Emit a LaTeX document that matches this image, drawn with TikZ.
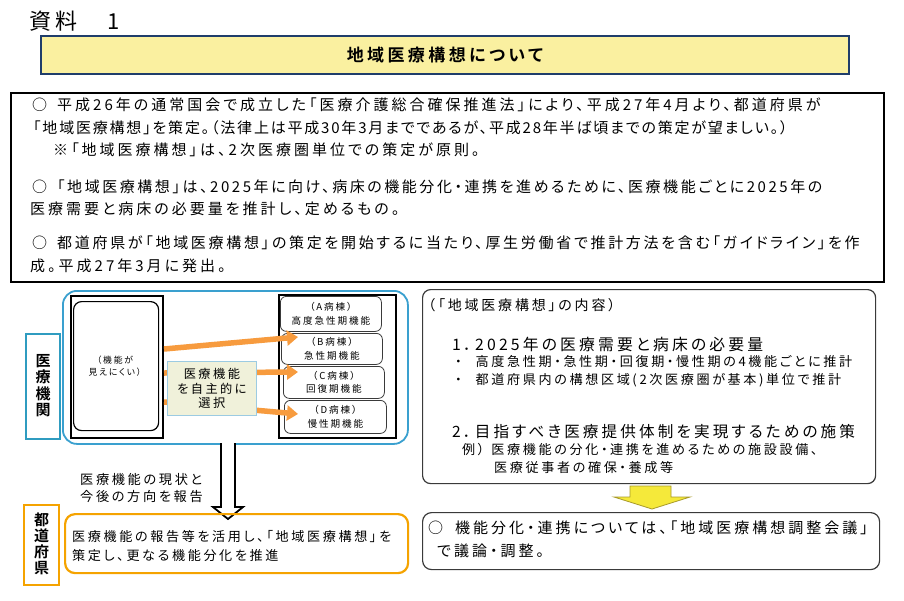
\documentclass[tikz,border=0pt]{standalone}
\usepackage{fontspec}
\setmainfont{Noto Sans CJK JP}[LetterSpace=20, RawFeature=+palt, BoldFont={Noto Sans CJK JP Bold}]
\usetikzlibrary{arrows.meta}
\definecolor{titlefill}{HTML}{FAF0A0}
\definecolor{titleedge}{HTML}{1F3D6B}
\definecolor{bluebox}{HTML}{3AA0CF}
\definecolor{tealbox}{HTML}{2F9CC0}
\definecolor{orangeA}{HTML}{F79B3E}
\definecolor{orangebox}{HTML}{F5A300}
\definecolor{centerfill}{HTML}{F0F1DA}
\definecolor{centeredge}{HTML}{9CCBE2}
\definecolor{yellowarrow}{HTML}{F5E93A}
\definecolor{yellowedge}{HTML}{A89A2A}
\definecolor{grayedge}{HTML}{3A3A3A}
\newcommand\fsz[2]{\fontsize{#1}{#2}\selectfont}
\tikzset{
  box/.style={draw, inner sep=0pt, anchor=north west},
  txt/.style={anchor=west, inner sep=0pt},
  ctxt/.style={inner sep=0pt, align=center},
  oarrow/.style={orangeA, line width=5.5pt, -{Triangle[width=15pt,length=11pt]}},
}
\begin{document}
\begin{tikzpicture}[x=1pt,y=-1pt]
\useasboundingbox (0,0) rectangle (904,600);
\fill[white] (0,0) rectangle (904,600);

% heading
\node[txt, font=\fsz{22}{26}] (shiryo) at (29,21) {資料\hspace{30pt}1};
\node[box, fill=titlefill, draw=titleedge, line width=1.8pt, minimum width=808pt, minimum height=38pt] (title) at (40,35) {};
\node[ctxt, font=\bfseries\fsz{17}{19}] (titletext) at (title.center) {地域医療構想について};

% main box
\node[box, line width=1.6pt, minimum width=873pt, minimum height=189pt] (main) at (10,92) {};
\begin{scope}[every node/.style={txt, font=\fsz{15}{18}}]
\node (l1) at (32,105) {○\hspace{10pt}平成26年の通常国会で成立した「医療介護総合確保推進法」により、平成27年4月より、都道府県が};
\node (l2) at (33,128) {\addfontfeatures{LetterSpace=12}「地域医療構想」を策定。（法律上は平成30年3月までであるが、平成28年半ば頃までの策定が望ましい。）};
\node (l3) at (53,150) {※「地域医療構想」は、2次医療圏単位での策定が原則。};
\node (l4) at (32,187) {\addfontfeatures{LetterSpace=17}○\hspace{10pt}「地域医療構想」は、2025年に向け、病床の機能分化・連携を進めるために、医療機能ごとに2025年の};
\node (l5) at (30,209) {医療需要と病床の必要量を推計し、定めるもの。};
\node (l6) at (32,243) {\addfontfeatures{LetterSpace=18}○\hspace{10pt}都道府県が「地域医療構想」の策定を開始するに当たり、厚生労働省で推計方法を含む「ガイドライン」を作};
\node (l7) at (30,266) {成。平成27年3月に発出。};
\end{scope}

% medical institutions group
\node[box, draw=bluebox, line width=1.8pt, rounded corners=14pt, minimum width=345pt, minimum height=153pt] (group) at (62,290) {};
\node[box, draw=tealbox, line width=2pt, minimum width=34pt, minimum height=105pt] (iryobox) at (25,333) {};
\node[ctxt, font=\bfseries\fsz{15}{16.5}] (iryotext) at (43,385.5) {医\\療\\機\\関};

\node[box, line width=2pt, minimum width=92pt, minimum height=142pt] (leftbox) at (70,295) {};
\node[box, line width=1.2pt, rounded corners=8pt, minimum width=85pt, minimum height=129pt] (leftinner) at (73,301) {};
\node[ctxt, font=\fsz{8.8}{11.5}] (lefttext) at (115,366) {（機能が\\見えにくい）};

\node[box, line width=2pt, minimum width=117pt, minimum height=143pt] (rightbox) at (278,294) {};
\begin{scope}[every node/.append style={line width=0.8pt, draw=grayedge, rounded corners=6pt}]
\node[box, minimum width=101pt, minimum height=35pt] (wa) at (280,296) {};
\node[box, minimum width=101pt, minimum height=31pt] (wb) at (281,333) {};
\node[box, minimum width=101pt, minimum height=32pt] (wc) at (283,366) {};
\node[box, minimum width=102pt, minimum height=33pt] (wd) at (284,400) {};
\end{scope}
\begin{scope}[every node/.style={ctxt, font=\fsz{9.6}{13.5}}]
\node (wat) at (wa.center) {（A病棟）\\高度急性期機能};
\node (wbt) at (wb.center) {（B病棟）\\急性期機能};
\node (wct) at (wc.center) {（C病棟）\\回復期機能};
\node (wdt) at (wd.center) {（D病棟）\\慢性期機能};
\end{scope}

% orange arrows (behind centre box)
\coordinate (a1s) at (164,349);
\coordinate (a1e) at (298,337);
\coordinate (a2s) at (164,373);
\coordinate (a2e) at (298,372);
\coordinate (a3s) at (164,402);
\coordinate (a3e) at (298,414);
\draw[oarrow] (a1s) -- (a1e);
\draw[oarrow] (a2s) -- (a2e);
\draw[oarrow] (a3s) -- (a3e);

\node[box, fill=centerfill, draw=centeredge, line width=0.8pt, minimum width=89pt, minimum height=54pt] (center) at (167,361) {};
\node[ctxt, font=\fsz{12.2}{14.2}] (centertext) at (center.center) {医療機能\\を自主的に\\選択};

% black hollow down arrow
\filldraw[fill=white, draw=black, line width=1.8pt]
  (221,443) -- (221,507) -- (213,507) -- (228,519) -- (243,507) -- (235,507) -- (235,443);
\node[txt, align=left, font=\fsz{13.2}{17}] (report) at (80,488) {医療機能の現状と\\今後の方向を報告};

% prefecture
\node[box, draw=orangebox, line width=2.2pt, minimum width=35pt, minimum height=80pt] (todobox) at (23,504) {};
\node[ctxt, font=\bfseries\fsz{15}{16}] (todotext) at (41.5,544) {都\\道\\府\\県};
\node[box, draw=orangebox, line width=2.2pt, rounded corners=10pt, minimum width=343pt, minimum height=59pt] (obox) at (64,513) {};
\node[txt, font=\fsz{13.1}{17}] (ob1) at (72,537) {医療機能の報告等を活用し、「地域医療構想」を};
\node[txt, font=\fsz{13.1}{17}] (ob2) at (72,556) {策定し、更なる機能分化を推進};

% right content box
\node[box, draw=grayedge, line width=1.2pt, rounded corners=8pt, minimum width=453pt, minimum height=194pt] (rbox) at (422,289) {};
\node[txt, font=\fsz{14}{17}] (r0) at (428,305) {（「地域医療構想」の内容）};
\node[txt, font=\fsz{15.8}{19}] (r1) at (452,344) {1．2025年の医療需要と病床の必要量};
\node[txt, font=\fsz{13.1}{17}] (r1a) at (455,362) {・\hspace{14pt}高度急性期・急性期・回復期・慢性期の4機能ごとに推計};
\node[txt, font=\fsz{13.1}{17}] (r1b) at (455,380) {・\hspace{14pt}都道府県内の構想区域(2次医療圏が基本)単位で推計};
\node[txt, font=\fsz{15.6}{19}] (r2) at (452,432) {2．目指すべき医療提供体制を実現するための施策};
\node[txt, font=\fsz{13.1}{17}] (r2a) at (462,450) {例）\hspace{7pt}医療機能の分化・連携を進めるための施設設備、};
\node[txt, font=\fsz{13.1}{17}] (r2b) at (494,468) {医療従事者の確保・養成等};

% yellow down arrow
\filldraw[fill=yellowarrow, draw=yellowedge, line width=0.8pt]
  (630,486) -- (630,497) -- (614,497) -- (652,509) -- (690,497) -- (671,497) -- (671,486) -- cycle;

% bottom right box
\node[box, draw=grayedge, line width=1.2pt, rounded corners=9pt, minimum width=457pt, minimum height=57pt] (rbot) at (422,512) {};
\node[txt, font=\fsz{15}{18}] (rb1) at (428,528) {○\hspace{12pt}機能分化・連携については、「地域医療構想調整会議」};
\node[txt, font=\fsz{15}{18}] (rb2) at (437,551) {で議論・調整。};
\end{tikzpicture}
\end{document}
